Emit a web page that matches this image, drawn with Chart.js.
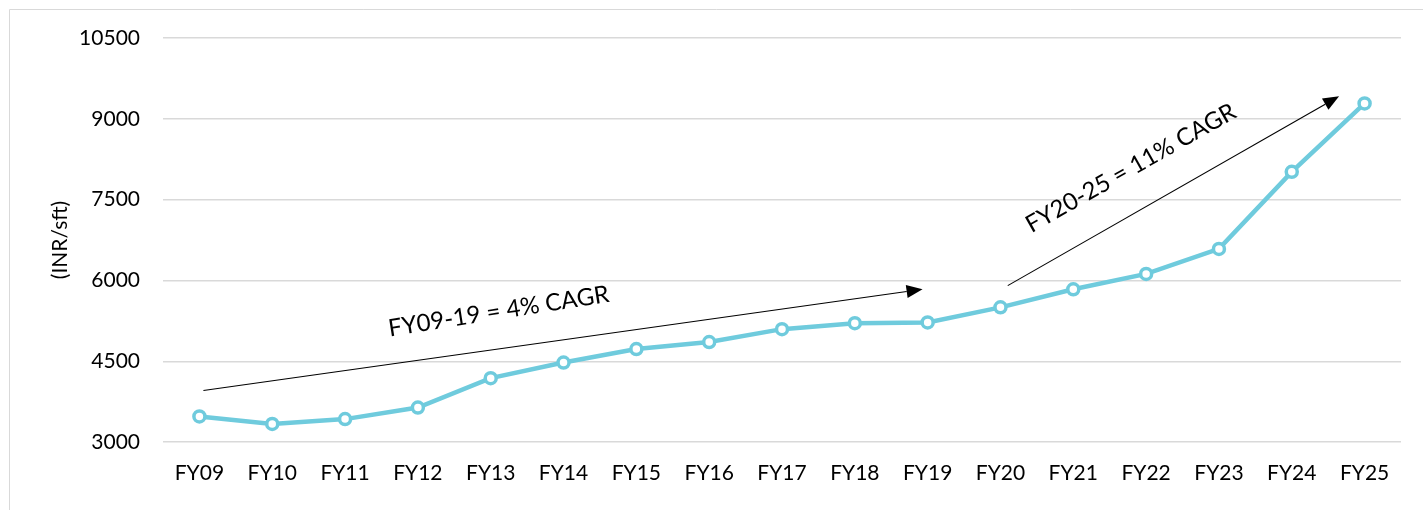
<!DOCTYPE html>
<html>
<head>
<meta charset="utf-8">
<title>Price per sq ft, FY09–FY25</title>
<script src="https://cdn.jsdelivr.net/npm/chart.js@4/dist/chart.umd.min.js"></script>
<style>
  html, body { margin: 0; padding: 0; background: #ffffff; }
  #wrap { position: relative; width: 1423px; height: 510px; }
</style>
</head>
<body>
<div id="wrap"><canvas id="c" width="1423" height="510"></canvas></div>
<script>
// Fiscal years on the category axis
const categories = ['FY09','FY10','FY11','FY12','FY13','FY14','FY15','FY16','FY17','FY18','FY19','FY20','FY21','FY22','FY23','FY24','FY25'];

// Average rate, INR per square foot
const pricePerSft = [3475, 3335, 3425, 3640, 4185, 4475, 4725, 4855, 5095, 5205, 5220, 5500, 5835, 6120, 6585, 8015, 9285];

// Value-axis ticks
const yTicks = [3000, 4500, 6000, 7500, 9000, 10500];

// Growth annotations: arrow from/to in (category index, value), label centre and tilt
const growthNotes = [
  { text: 'FY09-19 = 4% CAGR',  from: [0.055, 3956], to: [9.93, 5836],  label: [4.11, 5425],  angle: -9 },
  { text: 'FY20-25 = 11% CAGR', from: [11.10, 5903], to: [15.65, 9419], label: [12.79, 8085], angle: -29.5 }
];

const FONT = 'Lato, "Open Sans", "DejaVu Sans", sans-serif';

const frameAndNotes = {
  id: 'frameAndNotes',
  beforeDraw(chart) {
    const ctx = chart.ctx;
    ctx.save();
    ctx.strokeStyle = '#d9d9d9';
    ctx.lineWidth = 1;
    ctx.beginPath();
    ctx.moveTo(9.5, chart.height + 2);
    ctx.lineTo(9.5, 9.5);
    ctx.lineTo(chart.width + 2, 9.5);
    ctx.stroke();
    ctx.restore();
  },
  afterDatasetsDraw(chart) {
    const ctx = chart.ctx;
    const xs = chart.scales.x, ys = chart.scales.y;
    ctx.save();
    growthNotes.forEach(n => {
      const x0 = xs.getPixelForValue(n.from[0]), y0 = ys.getPixelForValue(n.from[1]);
      const x1 = xs.getPixelForValue(n.to[0]),   y1 = ys.getPixelForValue(n.to[1]);
      const a = Math.atan2(y1 - y0, x1 - x0);
      const headLen = 16, headHalf = 6.5;
      const bx = x1 - headLen * Math.cos(a), by = y1 - headLen * Math.sin(a);
      ctx.strokeStyle = '#000';
      ctx.lineWidth = 1.1;
      ctx.beginPath();
      ctx.moveTo(x0, y0);
      ctx.lineTo(bx, by);
      ctx.stroke();
      ctx.fillStyle = '#000';
      ctx.beginPath();
      ctx.moveTo(x1, y1);
      ctx.lineTo(bx + headHalf * Math.sin(a), by - headHalf * Math.cos(a));
      ctx.lineTo(bx - headHalf * Math.sin(a), by + headHalf * Math.cos(a));
      ctx.closePath();
      ctx.fill();

      const lx = xs.getPixelForValue(n.label[0]), ly = ys.getPixelForValue(n.label[1]);
      ctx.save();
      ctx.translate(lx, ly);
      ctx.rotate(n.angle * Math.PI / 180);
      ctx.font = '24px ' + FONT;
      ctx.textAlign = 'center';
      ctx.textBaseline = 'middle';
      ctx.fillStyle = '#000';
      ctx.fillText(n.text, 0, 0);
      ctx.restore();
    });
    ctx.restore();
  }
};

new Chart(document.getElementById('c'), {
  type: 'line',
  data: {
    labels: categories,
    datasets: [{
      data: pricePerSft,
      borderColor: '#6fcbdd',
      borderWidth: 4.5,
      pointRadius: 5.5,
      pointBorderWidth: 3.5,
      pointBackgroundColor: '#ffffff',
      pointBorderColor: '#6fcbdd',
      tension: 0,
      clip: false
    }]
  },
  options: {
    responsive: false,
    animation: false,
    devicePixelRatio: 1,
    layout: { padding: { top: 38, right: 22, bottom: 0, left: 0 } },
    plugins: {
      legend: { display: false },
      tooltip: { enabled: false }
    },
    scales: {
      x: {
        offset: true,
        grid: { display: false, drawTicks: false },
        border: { display: false },
        ticks: {
          padding: 19,
          color: '#000',
          font: { family: FONT, size: 21 },
          maxRotation: 0,
          autoSkip: false
        },
        afterFit(scale) { scale.height = 68; }
      },
      y: {
        min: 3000,
        max: 10500,
        afterBuildTicks(scale) { scale.ticks = yTicks.map(v => ({ value: v })); },
        grid: { color: '#d9d9d9', lineWidth: 1.4, drawTicks: false },
        border: { display: false },
        ticks: {
          padding: 23,
          color: '#000',
          font: { family: FONT, size: 21 },
          callback: v => String(v)
        },
        title: {
          display: true,
          text: '(INR/sft)',
          color: '#000',
          font: { family: FONT, size: 21 },
          padding: { top: 48, bottom: 0 }
        },
        afterFit(scale) { scale.width = 163; }
      }
    }
  },
  plugins: [frameAndNotes]
});
</script>
</body>
</html>
